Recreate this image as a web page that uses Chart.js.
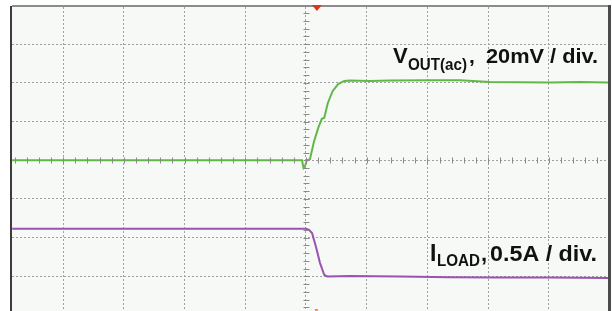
<!DOCTYPE html>
<html>
<head>
<meta charset="utf-8">
<script src="https://cdn.jsdelivr.net/npm/chart.js@4.4.1/dist/chart.umd.min.js"></script>
<style>
  html, body { margin: 0; padding: 0; background: #fff; overflow: hidden; }
  #scope { display: block; }
</style>
</head>
<body>
<canvas id="scope" width="612" height="311"></canvas>
<script>
// time axis in divisions from screen centre
const voutTime = [-4.84, -0.066, -0.04, -0.016, 0.016, 0.066, 0.13, 0.2, 0.26, 0.3, 0.36, 0.44, 0.53, 0.63, 0.72, 1.05, 1.38, 2.04, 2.54, 3.03, 4.02, 4.51, 4.975];
const voutMv   = [0, 0, -4, -3, 0, 0.6, 9.4, 16.6, 21.4, 21.8, 29.6, 35.8, 39.4, 41, 41.2, 41, 41.2, 41.4, 41.4, 40.4, 40.2, 40.4, 40.2];

const iloadTime = [-4.84, 0, 0.05, 0.1, 0.165, 0.23, 0.3, 0.35, 0.72, 1.55, 2.37, 3.2, 4.02, 4.975];
const iloadAmp  = [0.615, 0.615, 0.6, 0.56, 0.38, 0.175, 0.02, 0, 0.005, 0, -0.01, -0.015, -0.015, -0.02];

// grid lines (major divisions)
const timeDivs = [-4, -3, -2, -1, 0, 1, 2, 3, 4];
const voltTicks = [-60, -40, -20, 0, 20, 40, 60];
const triggerDiv = 0.18;

const colors = {
    screen: '#f7f9f6',
    grid: '#a0a0a0',
    vout: '#62b847',
    iload: '#9c52b0',
    trigger: '#e2321e',
    text: '#111'
};

function drawRun(ctx, text, x, baseline, size, width) {
    ctx.save();
    ctx.font = 'bold ' + size + 'px "Liberation Sans", Arial, sans-serif';
    ctx.fillStyle = colors.text;
    ctx.textBaseline = 'alphabetic';
    const w = ctx.measureText(text).width;
    ctx.translate(x, baseline);
    if (width) ctx.scale(width / w, 1);
    ctx.fillText(text, 0, 0);
    ctx.restore();
}

const scopeDecor = {
    id: 'scopeDecor',
    beforeDraw(chart) {
        const { ctx, chartArea: a } = chart;
        ctx.save();
        ctx.fillStyle = colors.screen;
        ctx.fillRect(a.left, a.top, a.right - a.left, a.bottom - a.top);
        ctx.restore();
    },
    afterDatasetsDraw(chart) {
        // minor ticks on the centre cross, 5 per division
        const { ctx, chartArea: a } = chart;
        const sx = chart.scales.x, sy = chart.scales.y;
        const cx = Math.round(sx.getPixelForValue(0)) + 0.5;
        const cy = Math.round(sy.getPixelForValue(0)) + 0.5;
        ctx.save();
        ctx.strokeStyle = '#8a8a8a';
        ctx.lineWidth = 1;
        ctx.beginPath();
        for (let i = -25; i <= 25; i++) {
            const px = sx.getPixelForValue(i / 5);
            if (px < a.left + 2 || px > a.right - 2) continue;
            ctx.moveTo(Math.round(px) + 0.5, cy - 3);
            ctx.lineTo(Math.round(px) + 0.5, cy + 3);
        }
        for (let i = -20; i <= 20; i++) {
            const py = sy.getPixelForValue(i * 4);
            if (py < a.top + 2 || py > a.bottom) continue;
            ctx.moveTo(cx - 3, Math.round(py) + 0.5);
            ctx.lineTo(cx + 3, Math.round(py) + 0.5);
        }
        ctx.stroke();
        ctx.restore();
    },
    afterDraw(chart) {
        const { ctx, chartArea: a } = chart;
        const sx = chart.scales.x;
        ctx.save();
        // bezel
        ctx.fillStyle = '#8c8c8c';
        ctx.fillRect(a.left, a.top - 2, a.right - a.left, 2);
        ctx.fillStyle = '#3c3c3c';
        ctx.fillRect(a.left - 2, a.top - 1, 2, a.bottom - a.top + 1);
        ctx.fillStyle = '#4a4a4a';
        ctx.fillRect(a.right, a.top - 2, 3, a.bottom - a.top + 2);

        // trigger position markers
        const tx = sx.getPixelForValue(triggerDiv);
        ctx.fillStyle = colors.trigger;
        ctx.beginPath();
        ctx.moveTo(tx - 5, a.top - 2);
        ctx.lineTo(tx + 5, a.top - 2);
        ctx.lineTo(tx, a.top + 4);
        ctx.closePath();
        ctx.fill();
        ctx.fillStyle = '#f08a6a';
        ctx.fillRect(tx - 2, a.bottom - 2, 3, 2);
        ctx.restore();

        // channel labels
        drawRun(ctx, 'V', 393, 63, 22);
        drawRun(ctx, 'OUT(ac)', 408, 70, 16, 59);
        drawRun(ctx, ',', 469, 63, 21);
        drawRun(ctx, '20mV / div.', 486, 63, 21, 112);

        drawRun(ctx, 'I', 430, 261, 23);
        drawRun(ctx, 'LOAD', 437, 266, 16, 43);
        drawRun(ctx, ',', 481, 261, 22);
        drawRun(ctx, '0.5A / div.', 490, 261, 22, 107);
    }
};

const toPoints = (xs, ys) => xs.map((x, i) => ({ x: x, y: ys[i] }));

new Chart(document.getElementById('scope').getContext('2d'), {
    type: 'line',
    data: {
        datasets: [
            {
                label: 'VOUT(ac)',
                data: toPoints(voutTime, voutMv),
                borderColor: colors.vout,
                borderWidth: 2,
                pointRadius: 0,
                tension: 0,
                yAxisID: 'y'
            },
            {
                label: 'ILOAD',
                data: toPoints(iloadTime, iloadAmp),
                borderColor: colors.iload,
                borderWidth: 2,
                pointRadius: 0,
                tension: 0,
                yAxisID: 'yI'
            }
        ]
    },
    options: {
        responsive: false,
        animation: false,
        devicePixelRatio: 1,
        layout: { padding: { left: 12, right: 4, top: 7, bottom: 0 } },
        plugins: {
            legend: { display: false },
            tooltip: { enabled: false }
        },
        scales: {
            x: {
                type: 'linear',
                min: -4.843,
                max: 4.975,
                afterBuildTicks: s => { s.ticks = timeDivs.map(v => ({ value: v })); },
                ticks: { display: false },
                grid: { color: colors.grid, lineWidth: 1, drawTicks: false },
                border: { display: false, dash: [2, 2] }
            },
            y: {
                min: -77.9,
                max: 79.2,
                afterBuildTicks: s => { s.ticks = voltTicks.map(v => ({ value: v })); },
                ticks: { display: false },
                grid: { color: colors.grid, lineWidth: 1, drawTicks: false },
                border: { display: false, dash: [2, 2] }
            },
            yI: {
                display: false,
                min: -0.447,
                max: 3.48
            }
        }
    },
    plugins: [scopeDecor]
});
</script>
</body>
</html>
